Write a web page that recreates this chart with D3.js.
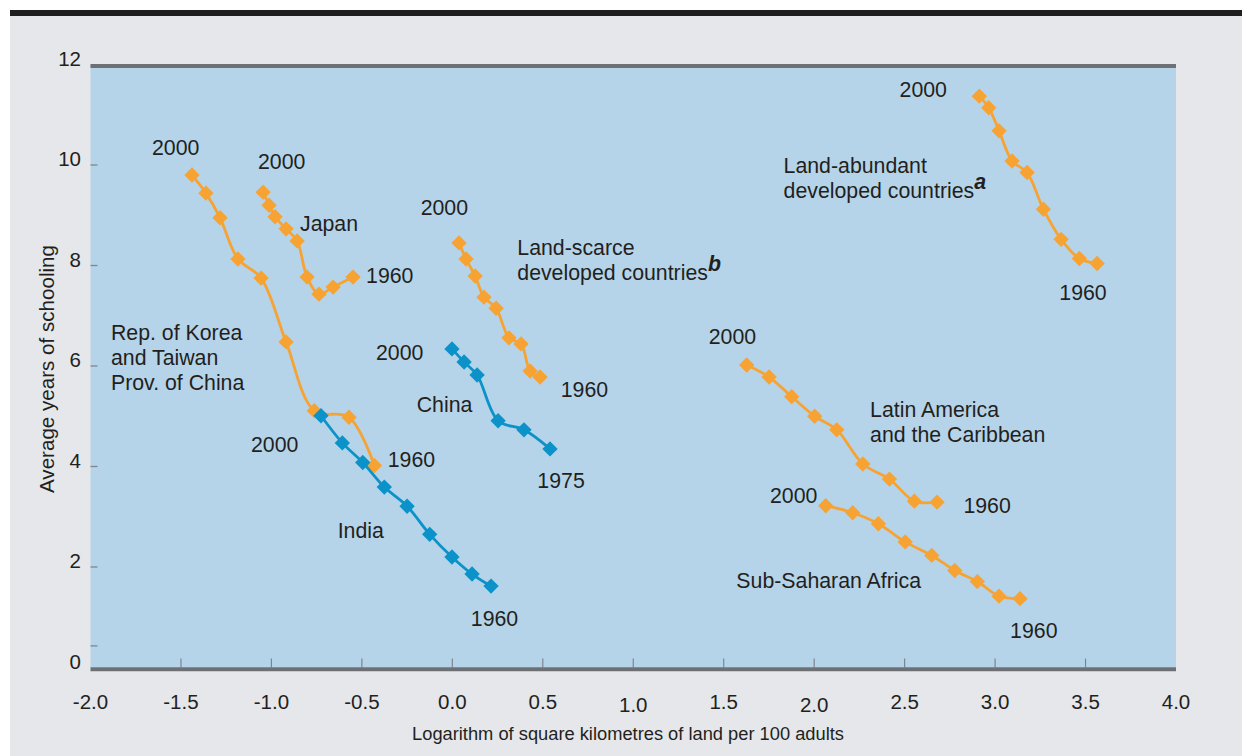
<!DOCTYPE html>
<html>
<head>
<meta charset="utf-8">
<script src="https://cdn.jsdelivr.net/npm/d3@7"></script>
<style>
  html, body { margin: 0; padding: 0; background: #ffffff; }
  svg { display: block; }
  text { font-family: "Liberation Sans", Arial, Helvetica, sans-serif; fill: #231f20; }
</style>
</head>
<body>
<svg id="chart" width="1242" height="756"></svg>
<script>
// ---------- DATA ----------
// each series: x = log of km2 land per 100 adults, y = average years of schooling, 2000 -> 1960
const koreaX = [-1.439, -1.362, -1.284, -1.185, -1.057, -0.919, -0.763, -0.571, -0.431];
const koreaY = [9.80, 9.44, 8.95, 8.13, 7.75, 6.48, 5.11, 4.98, 4.02];

const japanX = [-1.046, -1.013, -0.980, -0.919, -0.858, -0.803, -0.737, -0.659, -0.549];
const japanY = [9.46, 9.20, 8.97, 8.73, 8.49, 7.77, 7.43, 7.57, 7.77];

const scarceX = [0.037, 0.076, 0.126, 0.175, 0.242, 0.313, 0.380, 0.430, 0.485];
const scarceY = [8.45, 8.13, 7.79, 7.37, 7.15, 6.56, 6.44, 5.90, 5.78];

const abundantX = [2.913, 2.965, 3.022, 3.094, 3.177, 3.267, 3.365, 3.466, 3.564];
const abundantY = [11.37, 11.14, 10.68, 10.08, 9.85, 9.12, 8.52, 8.14, 8.04];

const latamX = [1.627, 1.751, 1.876, 2.003, 2.125, 2.269, 2.416, 2.554, 2.679];
const latamY = [6.02, 5.78, 5.39, 5.00, 4.73, 4.05, 3.75, 3.31, 3.29];

const ssaX = [2.064, 2.213, 2.355, 2.503, 2.650, 2.777, 2.902, 3.022, 3.138];
const ssaY = [3.22, 3.08, 2.86, 2.50, 2.23, 1.93, 1.71, 1.42, 1.37];

const chinaX = [-0.002, 0.065, 0.137, 0.253, 0.396, 0.540];   // 2000 -> 1975
const chinaY = [6.34, 6.08, 5.82, 4.91, 4.73, 4.35];

const indiaX = [-0.726, -0.608, -0.495, -0.376, -0.250, -0.125, -0.002, 0.109, 0.214];
const indiaY = [5.01, 4.47, 4.08, 3.59, 3.21, 2.65, 2.20, 1.86, 1.62];

const orangeSeries = ["korea", "japan", "scarce", "abundant", "latam", "ssa"];
const blueSeries = ["china", "india"];

const xTickLabels = ["-2.0", "-1.5", "-1.0", "-0.5", "0.0", "0.5", "1.0", "1.5", "2.0", "2.5", "3.0", "3.5", "4.0"];
const xTickMarks = [-1.5, -1.0, -0.5, 0.0, 0.5, 1.0, 1.5, 2.0, 2.5, 3.0, 3.5];
const yTickLabels = ["0", "2", "4", "6", "8", "10", "12"];
const yTickMarks = [0.43, 2, 4, 6, 8, 10];

// annotation text (anchored in data units: start x, baseline y)
const annotations = [
  { t: ["2000"], x: -1.660, y: 10.20 },
  { t: ["2000"], x: -1.074, y: 9.92 },
  { t: ["Japan"], x: -0.842, y: 8.68 },
  { t: ["1960"], x: -0.477, y: 7.65 },
  { t: ["Rep. of Korea", "and Taiwan", "Prov. of China"], x: -1.887, y: 6.52 },
  { t: ["2000"], x: -1.113, y: 4.29 },
  { t: ["1960"], x: -0.357, y: 4.00 },
  { t: ["India"], x: -0.634, y: 2.57 },
  { t: ["1960"], x: 0.102, y: 0.83 },
  { t: ["China"], x: -0.197, y: 5.08 },
  { t: ["2000"], x: -0.422, y: 6.12 },
  { t: ["1975"], x: 0.470, y: 3.57 },
  { t: ["2000"], x: -0.175, y: 9.00 },
  { t: ["Land-scarce", "developed countries"], x: 0.359, y: 8.21, sup: "b" },
  { t: ["1960"], x: 0.599, y: 5.39 },
  { t: ["Land-abundant", "developed countries"], x: 1.831, y: 9.85, sup: "a" },
  { t: ["2000"], x: 2.472, y: 11.36 },
  { t: ["1960"], x: 3.355, y: 7.31 },
  { t: ["2000"], x: 1.417, y: 6.44 },
  { t: ["Latin America", "and the Caribbean"], x: 2.309, y: 4.99 },
  { t: ["1960"], x: 2.825, y: 3.07 },
  { t: ["2000"], x: 1.756, y: 3.28 },
  { t: ["Sub-Saharan Africa"], x: 1.570, y: 1.58 },
  { t: ["1960"], x: 3.083, y: 0.58 }
];

const xTitle = "Logarithm of square kilometres of land per 100 adults";
const yTitle = "Average years of schooling";

// ---------- LAYOUT ----------
const seriesData = {
  korea: [koreaX, koreaY], japan: [japanX, japanY], scarce: [scarceX, scarceY],
  abundant: [abundantX, abundantY], latam: [latamX, latamY], ssa: [ssaX, ssaY],
  china: [chinaX, chinaY], india: [indiaX, indiaY]
};
const ORANGE = "#f7a333";
const BLUE = "#0b93c9";

const svg = d3.select("#chart");
const W = 1242, H = 756;
const pLeft = 90.5, pRight = 1176, pTop = 64.5, pBottom = 667.5;

const x = d3.scaleLinear().domain([-2, 4]).range([pLeft, pRight]);
const y = d3.scaleLinear().domain([0, 12]).range([pBottom, pTop]);

// outer panel
svg.append("rect").attr("x", 10).attr("y", 10).attr("width", W - 10).attr("height", H - 10).attr("fill", "#e5e7eb");
svg.append("rect").attr("x", 10).attr("y", 10).attr("width", W - 10).attr("height", 6).attr("fill", "#1f1f1f");

// plot area
svg.append("rect").attr("x", pLeft).attr("y", pTop).attr("width", pRight - pLeft).attr("height", pBottom - pTop).attr("fill", "#b5d4e9");

// y tick marks
svg.append("g").selectAll("line").data(yTickMarks).join("line")
  .attr("x1", pLeft).attr("x2", pLeft + 7)
  .attr("y1", d => y(d)).attr("y2", d => y(d))
  .attr("stroke", "#80858c").attr("stroke-width", 1.3);

// x tick marks
svg.append("g").selectAll("line").data(xTickMarks).join("line")
  .attr("x1", d => x(d)).attr("x2", d => x(d))
  .attr("y1", pBottom - 9).attr("y2", pBottom)
  .attr("stroke", "#80858c").attr("stroke-width", 1.2);

// top and bottom frame lines
svg.append("line").attr("x1", pLeft).attr("x2", pRight).attr("y1", pTop + 1.5).attr("y2", pTop + 1.5)
  .attr("stroke", "#6d7075").attr("stroke-width", 4);
svg.append("line").attr("x1", pLeft).attr("x2", pRight).attr("y1", pBottom + 1.8).attr("y2", pBottom + 1.8)
  .attr("stroke", "#6d7075").attr("stroke-width", 4);

// y tick labels
svg.append("g").selectAll("text").data(yTickLabels).join("text")
  .attr("x", 81).attr("y", d => y(+d) + 1)
  .attr("text-anchor", "end").attr("font-size", 20.5)
  .text(d => d);

// x tick labels (the original sets "1.0" and "2.0" a touch lower)
svg.append("g").selectAll("text").data(xTickLabels).join("text")
  .attr("x", d => x(+d)).attr("y", d => (d === "1.0" || d === "2.0") ? 712 : 709)
  .attr("text-anchor", "middle").attr("font-size", 20.5)
  .text(d => d);

// axis titles
svg.append("text").attr("x", 628).attr("y", 740).attr("text-anchor", "middle")
  .attr("font-size", 18.3).text(xTitle);
svg.append("text").attr("transform", "translate(54,369) rotate(-90)").attr("text-anchor", "middle")
  .attr("font-size", 20.6).text(yTitle);

// series
const line = d3.line().x(d => x(d[0])).y(d => y(d[1])).curve(d3.curveCatmullRom.alpha(0.5));
const diamond = d3.symbol().type(d3.symbolSquare).size(118);

function drawSeries(key, color) {
  const [xs, ys] = seriesData[key];
  const pts = xs.map((v, i) => [v, ys[i]]);
  const g = svg.append("g");
  g.append("path").attr("d", line(pts)).attr("fill", "none")
    .attr("stroke", color).attr("stroke-width", 2.8);
  g.selectAll("path.m").data(pts).join("path").attr("class", "m")
    .attr("d", diamond)
    .attr("transform", d => `translate(${x(d[0])},${y(d[1])}) rotate(45)`)
    .attr("fill", color);
}
orangeSeries.forEach(k => drawSeries(k, ORANGE));
blueSeries.forEach(k => drawSeries(k, BLUE));

// annotations
const ann = svg.append("g");
annotations.forEach(a => {
  const t = ann.append("text").attr("x", x(a.x)).attr("y", y(a.y)).attr("font-size", 21.3);
  a.t.forEach((ln, i) => {
    t.append("tspan").attr("x", x(a.x)).attr("dy", i === 0 ? 0 : 25.3).text(ln);
  });
  if (a.sup) {
    t.append("tspan").attr("dy", -9).attr("font-weight", "bold").attr("font-style", "italic")
      .text(a.sup);
  }
});
</script>
</body>
</html>
